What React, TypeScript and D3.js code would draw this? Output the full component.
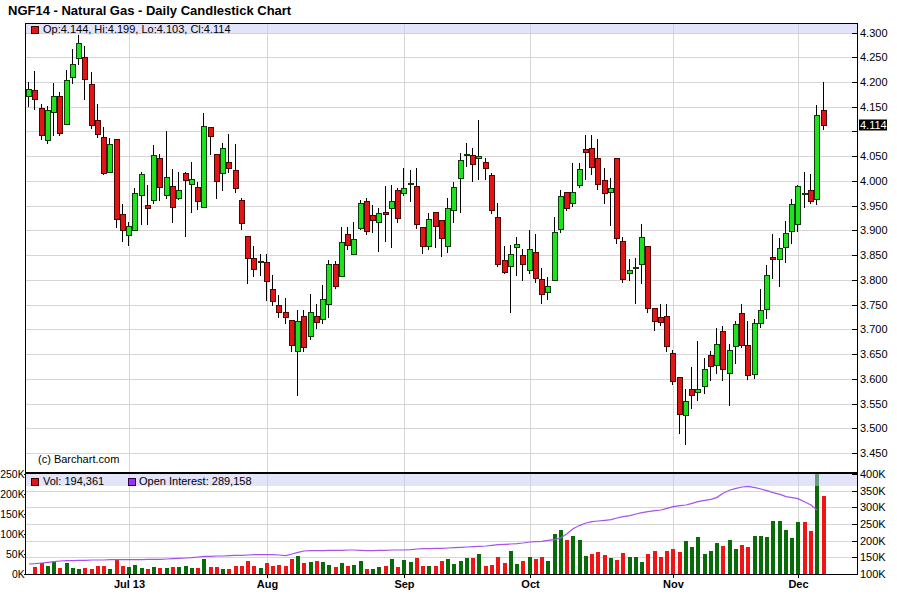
import * as d3 from 'd3';

// trading calendar (NYMEX days between first and last session)
const firstSession = '2013-06-07';
const lastSession = '2013-12-06';
const holidays = ['2013-07-04', '2013-09-02', '2013-11-28'];

const open = [
  4.171, 4.184, 4.148, 4.082, 4.139, 4.171, 4.116, 4.211, 4.248, 4.251,
  4.195, 4.124, 4.089, 4.018, 4.085, 3.934, 3.891, 3.900, 3.971, 3.951,
  3.962, 4.047, 3.971, 3.990, 3.965, 4.016, 3.993, 3.987, 3.947, 4.109,
  4.055, 4.016, 4.039, 4.022, 3.961, 3.888, 3.845, 3.838, 3.836, 3.782,
  3.750, 3.735, 3.718, 3.657, 3.727, 3.686, 3.727, 3.721, 3.752, 3.833,
  3.807, 3.892, 3.853, 3.904, 3.959, 3.932, 3.916, 3.938, 3.945, 3.982,
  3.975, 3.995, 3.990, 3.906, 3.868, 3.938, 3.921, 3.868, 3.941, 4.005,
  4.053, 4.053, 4.046, 4.039, 4.012, 3.928, 3.841, 3.828, 3.867, 3.850,
  3.819, 3.857, 3.801, 3.775, 3.799, 3.902, 3.978, 3.955, 3.991, 4.064,
  4.066, 4.046, 4.001, 3.978, 4.047, 3.879, 3.813, 3.826, 3.832, 3.869,
  3.744, 3.725, 3.727, 3.652, 3.603, 3.526, 3.580, 3.573, 3.586, 3.649,
  3.627, 3.696, 3.611, 3.666, 3.732, 3.668, 3.610, 3.713, 3.742, 3.847,
  3.843, 3.866, 3.898, 3.912, 3.975, 3.981, 3.964, 4.144,
];
const high = [
  4.200, 4.223, 4.155, 4.151, 4.197, 4.180, 4.225, 4.267, 4.295, 4.273,
  4.220, 4.156, 4.109, 4.087, 4.085, 3.954, 3.917, 3.985, 4.018, 3.991,
  4.072, 4.055, 4.101, 4.024, 4.019, 4.019, 4.039, 3.997, 4.137, 4.109,
  4.055, 4.076, 4.095, 4.075, 3.965, 3.888, 3.868, 3.852, 3.852, 3.809,
  3.769, 3.764, 3.718, 3.740, 3.740, 3.772, 3.752, 3.789, 3.840, 3.838,
  3.907, 3.907, 3.916, 3.961, 3.965, 3.951, 3.945, 3.990, 3.992, 3.985,
  4.026, 4.022, 4.026, 3.906, 3.936, 3.938, 3.921, 3.965, 3.997, 4.056,
  4.076, 4.066, 4.124, 4.046, 4.016, 3.955, 3.868, 3.870, 3.886, 3.863,
  3.901, 3.892, 3.823, 3.805, 3.928, 3.982, 3.978, 4.037, 4.037, 4.093,
  4.093, 4.084, 4.026, 4.005, 4.047, 3.887, 3.842, 3.845, 3.912, 3.869,
  3.744, 3.751, 3.751, 3.658, 3.603, 3.580, 3.623, 3.676, 3.643, 3.656,
  3.703, 3.707, 3.670, 3.716, 3.752, 3.717, 3.720, 3.781, 3.831, 3.893,
  3.885, 3.918, 3.963, 3.992, 4.018, 4.013, 4.153, 4.199,
];
const low = [
  4.150, 4.143, 4.082, 4.075, 4.090, 4.090, 4.116, 4.196, 4.234, 4.164,
  4.105, 4.087, 4.012, 4.016, 3.904, 3.877, 3.868, 3.900, 3.910, 3.910,
  3.954, 3.960, 3.964, 3.914, 3.961, 3.886, 3.936, 3.941, 3.947, 4.053,
  3.963, 3.980, 4.016, 3.976, 3.901, 3.792, 3.806, 3.807, 3.757, 3.748,
  3.723, 3.711, 3.654, 3.566, 3.654, 3.679, 3.701, 3.711, 3.723, 3.782,
  3.807, 3.860, 3.850, 3.901, 3.890, 3.894, 3.857, 3.877, 3.865, 3.915,
  3.970, 3.958, 3.902, 3.853, 3.861, 3.865, 3.847, 3.855, 3.914, 3.936,
  4.029, 3.997, 4.002, 4.002, 3.933, 3.826, 3.811, 3.732, 3.807, 3.798,
  3.811, 3.793, 3.751, 3.760, 3.798, 3.895, 3.940, 3.947, 3.985, 4.002,
  4.012, 3.982, 3.953, 3.909, 3.873, 3.793, 3.797, 3.752, 3.791, 3.734,
  3.697, 3.707, 3.654, 3.588, 3.488, 3.467, 3.539, 3.555, 3.569, 3.596,
  3.609, 3.595, 3.546, 3.629, 3.662, 3.597, 3.600, 3.703, 3.721, 3.802,
  3.785, 3.835, 3.873, 3.897, 3.945, 3.953, 3.951, 4.103,
];
const close = [
  4.186, 4.166, 4.092, 4.144, 4.172, 4.096, 4.203, 4.236, 4.279, 4.206,
  4.114, 4.094, 4.016, 4.075, 3.924, 3.900, 3.909, 3.976, 4.013, 3.946,
  4.053, 3.987, 4.008, 3.948, 3.982, 4.001, 4.003, 3.960, 4.111, 4.090,
  3.999, 4.066, 4.026, 3.985, 3.914, 3.845, 3.821, 3.839, 3.798, 3.757,
  3.735, 3.725, 3.669, 3.717, 3.665, 3.735, 3.715, 3.762, 3.833, 3.788,
  3.876, 3.870, 3.882, 3.955, 3.899, 3.921, 3.936, 3.934, 3.959, 3.926,
  3.985, 3.995, 3.913, 3.868, 3.922, 3.909, 3.884, 3.945, 3.988, 4.043,
  4.054, 4.034, 4.050, 4.026, 3.942, 3.832, 3.816, 3.853, 3.873, 3.832,
  3.863, 3.803, 3.772, 3.787, 3.897, 3.970, 3.945, 3.978, 4.024, 4.059,
  4.028, 3.994, 3.976, 3.986, 3.885, 3.801, 3.820, 3.826, 3.887, 3.743,
  3.716, 3.714, 3.666, 3.595, 3.529, 3.555, 3.568, 3.580, 3.620, 3.625,
  3.670, 3.620, 3.658, 3.711, 3.669, 3.607, 3.713, 3.740, 3.810, 3.843,
  3.865, 3.895, 3.954, 3.989, 3.976, 3.959, 4.133, 4.114,
];

// thousands of contracts
const volume = [
  null, 18, 27, 21, 31, 16, 27, 16, 13, 16,
  13, 20, 20, 13, 38, 20, 18, 22, 16, 13,
  18, 16, 16, 18, 18, 21, 16, 16, 38, 18,
  18, 13, 13, 20, 21, 33, 21, 16, 28, 21,
  22, 21, 38, 46, 28, 31, 33, 31, 23, 18,
  28, 21, 23, 33, 13, 13, 18, 21, 38, 18,
  36, 31, 41, 21, 21, 21, 33, 38, 25, 33,
  40, 40, 50, 21, 23, 43, 28, 58, 25, 33,
  43, 38, 43, 33, 100, 110, 85, 96, 86, 46,
  50, 56, 48, 40, 36, 53, 42, 43, 31, 50,
  58, 43, 58, 63, 56, 83, 68, 93, 50, 58,
  78, 71, 85, 62, 73, 68, 96, 96, 93, 133,
  133, 110, 90, 131, 131, 107, 285, 194.361,
];
const openInterest = [
  130, 131, 133, 135, 137, 139, 140, 140, 141, 141,
  142, 142, 142, 143, 143, 143, 143, 143, 143, 144,
  144, 144, 145, 146, 147, 148, 149, 151, 153, 153,
  154, 154, 155, 156, 156, 157, 158, 158, 158, 158,
  157, 155, 160, 165, 169, 170, 170, 170, 171, 171,
  171, 172, 172, 171, 170, 170, 171, 171, 172, 172,
  172, 173, 175, 176, 176, 177, 177, 178, 179, 180,
  181, 182, 183, 184, 186, 188, 189, 190, 191, 193,
  196, 197, 198, 201, 203, 209, 221, 236, 246, 253,
  257, 259, 261, 263, 268, 272, 275, 280, 284, 287,
  290, 292, 297, 302, 305, 307, 312, 317, 321, 324,
  330, 342, 352, 357, 361, 363, 359, 355, 350, 344,
  339, 332, 329, 326, 316, 307, 292, null,
];

const monthStarts = ['2013-07-01', '2013-08-01', '2013-09-03', '2013-10-01', '2013-11-01', '2013-12-02'];
const monthLabels = ['Jul 13', 'Aug', 'Sep', 'Oct', 'Nov', 'Dec'];
const priceTicks = [3.45, 3.5, 3.55, 3.6, 3.65, 3.7, 3.75, 3.8, 3.85, 3.9, 3.95, 4.0, 4.05, 4.1, 4.15, 4.2, 4.25, 4.3];
const volTicks = [0, 50, 100, 150, 200, 250];
const oiTicks = [100, 150, 200, 250, 300, 350, 400];

const FONT = '"Liberation Sans", Arial, sans-serif';
const W = 897;
const H = 596;
const LEFT = 26;
const RIGHT = 857;
const TOP = 23;
const MID = 473;
const BOTTOM = 574;

const fmtDay = d3.timeFormat('%Y-%m-%d');
const parseDay = d3.timeParse('%Y-%m-%d');

const days = d3.timeDay
  .range(parseDay(firstSession)!, d3.timeDay.offset(parseDay(lastSession)!, 1))
  .filter((d) => d.getDay() % 6 !== 0 && !holidays.includes(fmtDay(d)))
  .map(fmtDay);

export default function App() {
  const x = d3.scaleBand<string>().domain(days).range([26, 26 + days.length * 6.255]);
  const cx = (i: number) => Math.round(x(days[i])! + x.bandwidth() / 2);
  const y = d3.scaleLinear().domain([3.45, 4.3]).range([453, 32.5]);
  const yVol = d3.scaleLinear().domain([0, 250]).range([BOTTOM, BOTTOM - 100]);
  const yOi = d3.scaleLinear().domain([100, 400]).range([BOTTOM, BOTTOM - 100]);

  const lastClose = close[close.length - 1];
  const lastY = Math.round(y(lastClose));

  const oiLine = d3
    .line<number | null>()
    .defined((d) => d != null)
    .x((_, i) => cx(i))
    .y((d) => yOi(d as number))
    .curve(d3.curveLinear);

  const grid = '#d6d6d6';

  return (
    <svg
      width={W}
      height={H}
      style={{ position: 'absolute', left: 0, top: 0, background: '#fff' }}
      fontFamily={FONT}
    >
      <defs>
        <clipPath id="priceClip">
          <rect x={LEFT} y={TOP} width={RIGHT - LEFT} height={MID - TOP - 1} />
        </clipPath>
        <clipPath id="volClip">
          <rect x={LEFT} y={MID} width={RIGHT - LEFT} height={BOTTOM - MID} />
        </clipPath>
      </defs>

      <text x={8} y={15} fontSize={13} fontWeight="bold" fill="#000">
        NGF14 - Natural Gas - Daily Candlestick Chart
      </text>

      {/* grid */}
      {priceTicks.map((t) => (
        <line key={'pg' + t} x1={LEFT} x2={RIGHT} y1={Math.round(y(t)) + 0.5} y2={Math.round(y(t)) + 0.5} stroke={grid} />
      ))}
      {oiTicks.slice(1, -1).map((t) => (
        <line key={'vg' + t} x1={LEFT} x2={RIGHT} y1={Math.round(yOi(t)) + 0.5} y2={Math.round(yOi(t)) + 0.5} stroke={grid} />
      ))}
      {monthStarts.map((d) => {
        const gx = Math.round(x(d)! + x.bandwidth() / 2) + 0.5;
        return <line key={'mg' + d} x1={gx} x2={gx} y1={TOP} y2={BOTTOM} stroke={grid} />;
      })}

      {/* candles */}
      <g clipPath="url(#priceClip)">
        {open.map((o, i) => {
          const c = close[i];
          const up = c >= o;
          const px = cx(i);
          const top = Math.round(y(Math.max(o, c)));
          const bot = Math.round(y(Math.min(o, c)));
          return (
            <g key={'c' + i}>
              <line
                x1={px - 0.5}
                x2={px - 0.5}
                y1={Math.round(y(high[i]))}
                y2={Math.round(y(low[i]))}
                stroke="#000"
              />
              <rect
                x={px - 2.5}
                y={top + 0.5}
                width={5}
                height={Math.max(bot - top, 1)}
                fill={up ? '#1fe21f' : '#e11515'}
                stroke={up ? '#0b3d0b' : '#4a0505'}
              />
            </g>
          );
        })}
      </g>

      <text x={38} y={463} fontSize={11} fill="#000">
        (c) Barchart.com
      </text>

      {/* volume */}
      <g clipPath="url(#volClip)">
        {volume.map((v, i) => {
          if (v == null) return null;
          const up = i === 0 || close[i] >= close[i - 1];
          const top = Math.round(yVol(v));
          return (
            <rect
              key={'v' + i}
              x={cx(i) - 2}
              y={top}
              width={4}
              height={BOTTOM - top}
              fill={up ? '#076b07' : '#f01414'}
            />
          );
        })}
        <path d={oiLine(openInterest) ?? ''} fill="none" stroke="#a552ee" strokeWidth={1.2} />
      </g>

      {/* legend bands */}
      <rect x={LEFT} y={TOP} width={RIGHT - LEFT} height={11} fill="#c8c8f5" opacity={0.5} />
      <rect x={LEFT} y={MID + 1} width={RIGHT - LEFT} height={12} fill="#c8c8f5" opacity={0.5} />

      <rect x={31.5} y={26.5} width={7} height={7} fill="#e11515" stroke="#3a0000" />
      <text x={43} y={33} fontSize={11} fill="#000">
        {`Op:${d3.format('.3f')(open[open.length - 1])}, Hi:${d3.format('.3f')(high[high.length - 1])}, Lo:${d3.format('.3f')(low[low.length - 1])}, Cl:${d3.format('.3f')(lastClose)}`}
      </text>

      <rect x={31.5} y={478.5} width={7} height={7} fill="#e11515" stroke="#3a0000" />
      <text x={43} y={485} fontSize={11} fill="#000">
        {`Vol: ${d3.format(',')(Math.round((volume[volume.length - 1] as number) * 1000))}`}
      </text>
      <rect x={128.5} y={478.5} width={7} height={7} fill="#9a33ff" stroke="#2a0050" />
      <text x={139} y={485} fontSize={11} fill="#000">
        Open Interest: 289,158
      </text>

      {/* frame */}
      <line x1={LEFT - 0.5} x2={LEFT - 0.5} y1={TOP} y2={BOTTOM + 1} stroke="#000" />
      <line x1={LEFT} x2={RIGHT} y1={TOP + 0.5} y2={TOP + 0.5} stroke="#000" />
      <line x1={LEFT} x2={RIGHT} y1={MID} y2={MID} stroke="#000" strokeWidth={2} />
      <line x1={LEFT} x2={RIGHT} y1={BOTTOM + 0.5} y2={BOTTOM + 0.5} stroke="#000" />
      <line x1={RIGHT + 0.5} x2={RIGHT + 0.5} y1={TOP} y2={BOTTOM + 1} stroke="#000" />

      {/* price axis */}
      {priceTicks.map((t) => {
        const ty = Math.round(y(t)) + 0.5;
        const hide = Math.abs(ty - lastY) < 10;
        return (
          <g key={'pt' + t}>
            <line x1={RIGHT - 5} x2={RIGHT} y1={ty} y2={ty} stroke="#000" />
            {!hide && (
              <text x={860} y={ty} dy="0.35em" fontSize={11} fill="#000">
                {d3.format('.3f')(t)}
              </text>
            )}
          </g>
        );
      })}
      <rect x={859} y={lastY - 5.5} width={28} height={11} fill="#000" />
      <text x={860} y={lastY} dy="0.35em" fontSize={11} fill="#fff">
        {d3.format('.3f')(lastClose)}
      </text>

      {/* volume axes */}
      {volTicks.map((t) => {
        const ty = Math.round(yVol(t)) + 0.5;
        return (
          <g key={'vt' + t}>
            <line x1={LEFT - 2} x2={LEFT} y1={ty} y2={ty} stroke="#000" />
            <text x={24.6} y={ty} dy="0.35em" fontSize={10.4} textAnchor="end" fill="#000">
              {t + 'K'}
            </text>
          </g>
        );
      })}
      {oiTicks.map((t) => {
        const ty = Math.round(yOi(t)) + 0.5;
        return (
          <g key={'ot' + t}>
            <line x1={RIGHT - 5} x2={RIGHT} y1={ty} y2={ty} stroke="#000" />
            <text x={860} y={ty} dy="0.35em" fontSize={11} fill="#000">
              {t + 'K'}
            </text>
          </g>
        );
      })}

      {/* month axis */}
      {monthStarts.map((d, i) => {
        const gx = Math.round(x(d)! + x.bandwidth() / 2) + 0.5;
        return (
          <g key={'mt' + d}>
            <line x1={gx} x2={gx} y1={BOTTOM} y2={BOTTOM + 4} stroke="#000" />
            <text x={gx} y={588} fontSize={11} fontWeight="bold" textAnchor="middle" fill="#000">
              {monthLabels[i]}
            </text>
          </g>
        );
      })}
    </svg>
  );
}
